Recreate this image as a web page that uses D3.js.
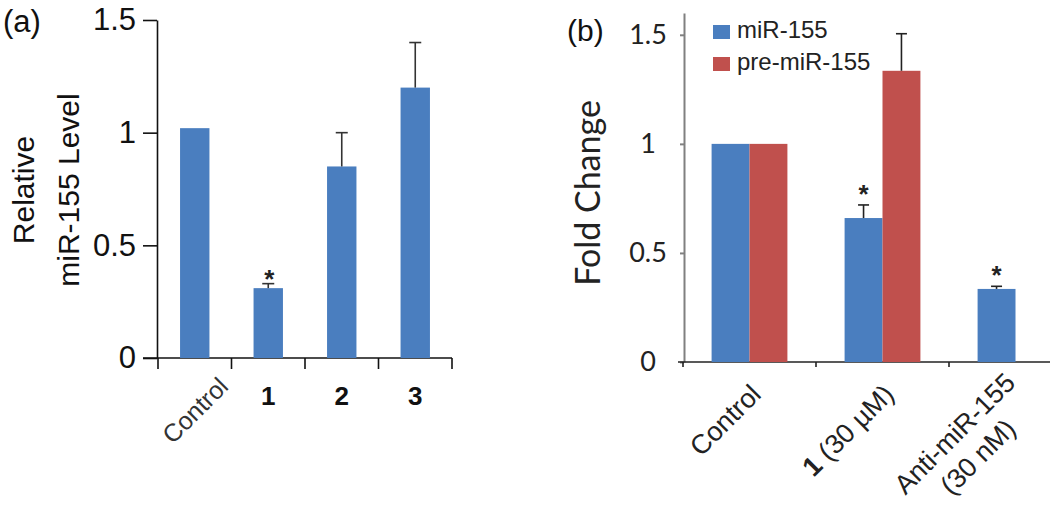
<!DOCTYPE html>
<html>
<head>
<meta charset="utf-8">
<script src="https://cdn.jsdelivr.net/npm/d3@7"></script>
<style>
  html, body { margin: 0; padding: 0; background: #fff; }
  svg { display: block; }
</style>
</head>
<body>
<script>
// ---------- Data: panel (a) ----------
const catsA = ["Control", "1", "2", "3"];
const levelA = [1.02, 0.31, 0.85, 1.20];
const errA = [0, 0.02, 0.15, 0.20];
const sigA = [false, true, false, false];
const ticksA = [0, 0.5, 1, 1.5];
const yMaxA = 1.5;
const yTitleA = ["Relative", "miR-155 Level"];

// ---------- Data: panel (b) ----------
const catsB = ["Control", "1 (30 µM)", "Anti-miR-155 (30 nM)"];
const labelLinesB = [["Control"], ["1 (30 µM)"], ["Anti-miR-155", "(30 nM)"]];
const seriesB = ["miR-155", "pre-miR-155"];
const mirB = [1.00, 0.66, 0.335];
const mirErrB = [0, 0.06, 0.012];
const preB = [1.00, 1.335, null];
const preErrB = [0, 0.17, 0];
const sigMirB = [false, true, true];
const sigPreB = [false, false, false];
const ticksB = [0, 0.5, 1, 1.5];
const yMaxB = 1.6;
const yTitleB = "Fold Change";

// ---------- Styles ----------
const BLUE = "#4a7ebf";
const RED = "#c0504d";
const ARIAL = "'Liberation Sans', Arial, sans-serif";
const CAL = "Lato, 'Open Sans', sans-serif";

const svg = d3.select("body").append("svg").attr("width", 1050).attr("height", 506);

// helper: bold leading compound number
function writeLabel(textSel, str) {
  const m = str.match(/^(\d+)(\s.*)?$/);
  if (m) {
    textSel.append("tspan").attr("font-weight", "bold").text(m[1]);
    if (m[2]) textSel.append("tspan").text(m[2]);
  } else textSel.text(str);
}

// ================= Panel (a) =================
const gA = svg.append("g");
const yA = d3.scaleLinear().domain([0, yMaxA]).range([358, 20]);
const xA = d3.scaleBand().domain(catsA).range([158, 452]).paddingInner(0.6).paddingOuter(0.3);
const axA = 157;

const yAxisA = gA.append("g").attr("transform", `translate(${axA},0)`)
  .call(d3.axisLeft(yA).tickValues(ticksA).tickSize(14).tickSizeOuter(0).tickPadding(7).tickFormat(d3.format("~g")));
yAxisA.selectAll("path, line").attr("stroke", "#111").attr("stroke-width", 1.6);
yAxisA.selectAll("text").attr("font-family", ARIAL).attr("font-size", 31).attr("fill", "#111");

// x axis A
const gapA = xA.step() - xA.bandwidth();
const boundsA = catsA.map(c => xA(c) - gapA / 2).concat([xA(catsA[catsA.length - 1]) + xA.bandwidth() + gapA / 2]);
gA.append("line").attr("x1", axA - 14).attr("x2", boundsA[boundsA.length - 1])
  .attr("y1", yA(0)).attr("y2", yA(0)).attr("stroke", "#111").attr("stroke-width", 1.6);
gA.selectAll(".tkA").data(boundsA).join("line")
  .attr("x1", d => d).attr("x2", d => d).attr("y1", yA(0)).attr("y2", yA(0) + 11)
  .attr("stroke", "#111").attr("stroke-width", 1.6);

// bars A
gA.selectAll(".barA").data(catsA).join("rect")
  .attr("x", c => xA(c)).attr("width", xA.bandwidth())
  .attr("y", (c, i) => yA(levelA[i])).attr("height", (c, i) => yA(0) - yA(levelA[i]))
  .attr("fill", BLUE);

// error bars A
catsA.forEach((c, i) => {
  const cx = xA(c) + xA.bandwidth() / 2;
  const top = yA(levelA[i] + errA[i]);
  if (errA[i] > 0) {
    gA.append("line").attr("x1", cx).attr("x2", cx).attr("y1", yA(levelA[i])).attr("y2", top)
      .attr("stroke", "#333").attr("stroke-width", 1.6);
    gA.append("line").attr("x1", cx - 6).attr("x2", cx + 6).attr("y1", top).attr("y2", top)
      .attr("stroke", "#333").attr("stroke-width", 1.6);
  }
  if (sigA[i]) {
    gA.append("text").attr("x", cx + 1).attr("y", top + 4).attr("text-anchor", "middle")
      .attr("font-family", ARIAL).attr("font-weight", "bold").attr("font-size", 26).attr("fill", "#222").text("*");
  }
});

// x labels A
catsA.forEach((c, i) => {
  const cx = xA(c) + xA.bandwidth() / 2;
  if (isNaN(+c)) {
    const t = gA.append("text").attr("transform", `translate(${cx + 35},${yA(0) + 30}) rotate(-45)`)
      .attr("text-anchor", "end").attr("font-family", ARIAL).attr("font-size", 25).attr("fill", "#333");
    writeLabel(t, c);
  } else {
    const t = gA.append("text").attr("x", cx).attr("y", yA(0) + 47).attr("text-anchor", "middle")
      .attr("font-family", ARIAL).attr("font-size", 26).attr("fill", "#111");
    writeLabel(t, c);
  }
});

// y title A
const ytA = gA.append("text").attr("transform", "translate(34,190) rotate(-90)")
  .attr("text-anchor", "middle").attr("font-family", ARIAL).attr("font-size", 30).attr("fill", "#111");
yTitleA.forEach((s, i) => ytA.append("tspan").attr("x", 0).attr("y", i * 45).text(s));

svg.append("text").attr("x", 3).attr("y", 32).attr("font-family", ARIAL).attr("font-size", 31).attr("fill", "#111").text("(a)");

// ================= Panel (b) =================
const gB = svg.append("g");
const yB = d3.scaleLinear().domain([0, yMaxB]).range([362, 13]);
const xB = d3.scaleBand().domain(catsB).range([683, 1082]).paddingInner(0.43).paddingOuter(0.215);
const xSub = d3.scaleBand().domain(seriesB).range([0, xB.bandwidth()]);
const axB = 684;

const yAxisB = gB.append("g").attr("transform", `translate(${axB},0)`)
  .call(d3.axisLeft(yB).tickValues(ticksB).tickSize(4).tickSizeOuter(0).tickFormat(d3.format("~g")));
yAxisB.selectAll("path, line").attr("stroke", "#808080").attr("stroke-width", 2);
yAxisB.selectAll("text").attr("x", -36).attr("text-anchor", "middle")
  .attr("font-family", CAL).attr("font-size", 27).attr("fill", "#222");

// x axis B
const gapB = xB.step() - xB.bandwidth();
const boundsB = catsB.map(c => xB(c) - gapB / 2).concat([xB(catsB[catsB.length - 1]) + xB.bandwidth() + gapB / 2]);
gB.append("line").attr("x1", axB - 6).attr("x2", boundsB[boundsB.length - 1])
  .attr("y1", yB(0)).attr("y2", yB(0)).attr("stroke", "#222").attr("stroke-width", 1.6);
gB.selectAll(".tkB").data(boundsB).join("line")
  .attr("x1", d => d).attr("x2", d => d).attr("y1", yB(0)).attr("y2", yB(0) + 5)
  .attr("stroke", "#222").attr("stroke-width", 1.6);

const seriesData = [
  { key: seriesB[0], vals: mirB, errs: mirErrB, sig: sigMirB, color: BLUE },
  { key: seriesB[1], vals: preB, errs: preErrB, sig: sigPreB, color: RED }
];
seriesData.forEach(s => {
  catsB.forEach((c, i) => {
    const v = s.vals[i];
    if (v == null) return;
    const x0 = xB(c) + xSub(s.key);
    gB.append("rect").attr("x", x0).attr("width", xSub.bandwidth())
      .attr("y", yB(v)).attr("height", yB(0) - yB(v)).attr("fill", s.color);
    const cx = x0 + xSub.bandwidth() / 2;
    const top = yB(v + s.errs[i]);
    if (s.errs[i] > 0) {
      gB.append("line").attr("x1", cx).attr("x2", cx).attr("y1", yB(v)).attr("y2", top)
        .attr("stroke", "#222").attr("stroke-width", 1.6);
      gB.append("line").attr("x1", cx - 5.5).attr("x2", cx + 5.5).attr("y1", top).attr("y2", top)
        .attr("stroke", "#222").attr("stroke-width", 1.6);
    }
    if (s.sig[i]) {
      gB.append("text").attr("x", cx).attr("y", top - 2).attr("text-anchor", "middle")
        .attr("font-family", ARIAL).attr("font-weight", "bold").attr("font-size", 26).attr("fill", "#222").text("*");
    }
  });
});

// x labels B
const lhB = 33;
catsB.forEach((c, i) => {
  const cx = xB(c) + xB.bandwidth() / 2;
  const lines = labelLinesB[i];
  const shift = (lines.length - 1) * lhB / 2 * Math.SQRT1_2;
  const g = gB.append("g").attr("transform", `translate(${cx + 13 - shift},${yB(0) + 34 - shift}) rotate(-45)`);
  const first = g.append("text").attr("text-anchor", "end").attr("font-family", ARIAL)
    .attr("font-size", 27).attr("fill", "#222");
  writeLabel(first, lines[0]);
  const w1 = first.node().getComputedTextLength();
  lines.slice(1).forEach((ln, k) => {
    const t = g.append("text").attr("x", -w1 / 2).attr("y", (k + 1) * lhB).attr("text-anchor", "middle")
      .attr("font-family", ARIAL).attr("font-size", 27).attr("fill", "#222");
    writeLabel(t, ln);
  });
});

// legend
seriesData.forEach((s, i) => {
  const ly = 25 + i * 32;
  gB.append("rect").attr("x", 713).attr("y", ly).attr("width", 17).attr("height", 14).attr("fill", s.color);
  gB.append("text").attr("x", 737).attr("y", ly + 13).attr("font-family", ARIAL).attr("font-size", 24)
    .attr("fill", "#222").text(s.key);
});

// y title B
gB.append("text").attr("transform", "translate(600,193) rotate(-90)").attr("text-anchor", "middle")
  .attr("font-family", CAL).attr("font-size", 34).attr("fill", "#222").text(yTitleB);

svg.append("text").attr("x", 567).attr("y", 41).attr("font-family", ARIAL).attr("font-size", 30).attr("fill", "#111").text("(b)");
</script>
</body>
</html>
